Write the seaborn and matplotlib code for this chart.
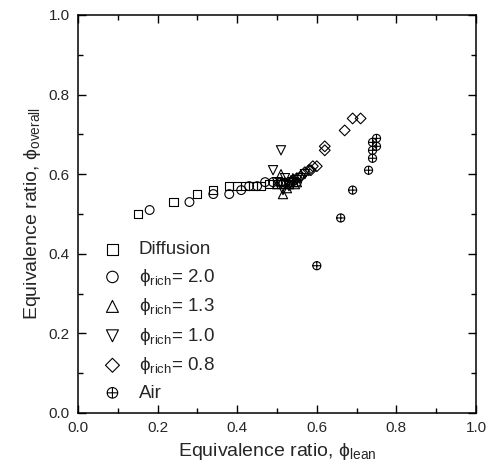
import matplotlib
matplotlib.use("Agg")
import matplotlib.pyplot as plt
import pandas as pd
import seaborn as sns
from matplotlib.path import Path
from matplotlib.ticker import MultipleLocator

# equivalence ratio (lean, overall)
DIFF_LEAN = [0.15, 0.24, 0.30, 0.34, 0.38, 0.40, 0.42, 0.44, 0.46, 0.48, 0.50, 0.51, 0.52, 0.53, 0.54]
DIFF_OVER = [0.50, 0.53, 0.55, 0.56, 0.57, 0.57, 0.57, 0.57, 0.57, 0.575, 0.575, 0.575, 0.575, 0.575, 0.58]

R20_LEAN = [0.18, 0.28, 0.34, 0.38, 0.41, 0.43, 0.45, 0.47, 0.49, 0.51, 0.53, 0.55]
R20_OVER = [0.51, 0.53, 0.55, 0.55, 0.56, 0.57, 0.57, 0.58, 0.58, 0.58, 0.58, 0.58]

R13_LEAN = [0.515, 0.51, 0.50, 0.52, 0.53, 0.54, 0.55, 0.525, 0.535, 0.545]
R13_OVER = [0.55, 0.60, 0.575, 0.58, 0.575, 0.59, 0.58, 0.565, 0.585, 0.575]

R10_LEAN = [0.49, 0.51, 0.50, 0.52, 0.53, 0.52, 0.54, 0.55, 0.56, 0.57, 0.515]
R10_OVER = [0.61, 0.66, 0.58, 0.575, 0.57, 0.59, 0.58, 0.585, 0.59, 0.60, 0.56]

R08_LEAN = [0.55, 0.56, 0.57, 0.58, 0.585, 0.59, 0.60, 0.62, 0.62, 0.67, 0.69, 0.71]
R08_OVER = [0.59, 0.595, 0.605, 0.61, 0.61, 0.62, 0.62, 0.66, 0.67, 0.71, 0.74, 0.74]

AIR_LEAN = [0.60, 0.66, 0.69, 0.73, 0.74, 0.74, 0.75, 0.74, 0.75]
AIR_OVER = [0.37, 0.49, 0.56, 0.61, 0.64, 0.66, 0.67, 0.68, 0.69]

LABELS = [
    "Diffusion",
    "\u03d5$_{\\mathrm{rich}}$= 2.0",
    "\u03d5$_{\\mathrm{rich}}$= 1.3",
    "\u03d5$_{\\mathrm{rich}}$= 1.0",
    "\u03d5$_{\\mathrm{rich}}$= 0.8",
    "Air",
]


def oplus_marker() -> Path:
    circle = Path.unit_circle()
    hline = Path([[-1, 0], [1, 0]], [Path.MOVETO, Path.LINETO])
    vline = Path([[0, -1], [0, 1]], [Path.MOVETO, Path.LINETO])
    return Path.make_compound_path(circle, hline, vline)


sns.set_style("ticks")
plt.rcParams["font.family"] = ["Liberation Sans", "DejaVu Sans"]
plt.rcParams["mathtext.fontset"] = "custom"
plt.rcParams["mathtext.rm"] = "Liberation Sans"
plt.rcParams["mathtext.it"] = "Liberation Sans:italic"

series = [
    (DIFF_LEAN, DIFF_OVER, "s", 34),
    (R20_LEAN, R20_OVER, "o", 40),
    (R13_LEAN, R13_OVER, "^", 44),
    (R10_LEAN, R10_OVER, "v", 44),
    (R08_LEAN, R08_OVER, "D", 30),
    (AIR_LEAN, AIR_OVER, oplus_marker(), 34),
]

fig = plt.figure(figsize=(4.94, 4.74), dpi=100)
ax = fig.add_axes([0.1579, 0.1287, 0.8057, 0.8397])

for (xs, ys, marker, size), label in zip(series, LABELS):
    df = pd.DataFrame({"lean": xs, "overall": ys})
    sns.scatterplot(
        data=df,
        x="lean",
        y="overall",
        marker=marker,
        s=size,
        facecolor="none",
        edgecolor="black",
        linewidth=0.8,
        label=label,
        ax=ax,
    )

ax.set_xlim(0, 1)
ax.set_ylim(0, 1)
ax.xaxis.set_major_locator(MultipleLocator(0.2))
ax.yaxis.set_major_locator(MultipleLocator(0.2))
ax.xaxis.set_minor_locator(MultipleLocator(0.1))
ax.yaxis.set_minor_locator(MultipleLocator(0.1))
ax.tick_params(which="both", direction="in", top=True, right=True, bottom=True, left=True,
               width=1.0, color="black", labelsize=11, pad=6)
ax.tick_params(which="major", length=6)
ax.tick_params(which="minor", length=3.5)
for spine in ax.spines.values():
    spine.set_linewidth(1.1)
    spine.set_color("black")
    spine.set_visible(True)

ax.set_xlabel("Equivalence ratio, \u03d5$_{\\mathrm{lean}}$", fontsize=14)
ax.set_ylabel("Equivalence ratio, \u03d5$_{\\mathrm{overall}}$", fontsize=14)

ax.legend(
    loc="lower left",
    bbox_to_anchor=(0.03, 0.0),
    frameon=False,
    fontsize=13.5,
    handlelength=1.2,
    handletextpad=0.8,
    labelspacing=0.45,
    borderaxespad=0.2,
    markerscale=1.3,
)

fig.savefig("out.png", dpi=100)
